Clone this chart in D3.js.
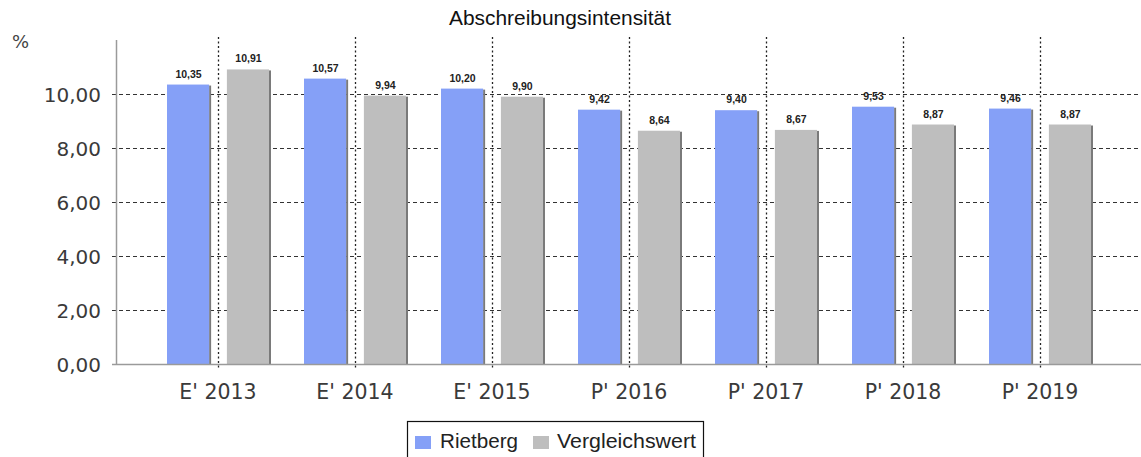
<!DOCTYPE html>
<html>
<head>
<meta charset="utf-8">
<script src="https://cdn.jsdelivr.net/npm/d3@7"></script>
<style>
  html, body { margin: 0; padding: 0; background: #fff; }
  svg { display: block; }
</style>
</head>
<body>
<svg id="chart" width="1141" height="457"></svg>
<script>
// Abschreibungsintensität: Rietberg vs. Vergleichswert, in %
const categories = ["E' 2013", "E' 2014", "E' 2015", "P' 2016", "P' 2017", "P' 2018", "P' 2019"];
const seriesNames = ["Rietberg", "Vergleichswert"];
const rietberg = [10.35, 10.57, 10.20, 9.42, 9.40, 9.53, 9.46];
const vergleichswert = [10.91, 9.94, 9.90, 8.64, 8.67, 8.87, 8.87];
const yTicks = [0, 2, 4, 6, 8, 10];

const colors = ["#85a0f7", "#bebebe"];
const svg = d3.select("#chart");
const plotLeft = 116, plotRight = 1141, plotTop = 40, plotBottom = 364;

const fmt = v => d3.format(".2f")(v).replace(".", ",");

const x = d3.scaleBand().domain(categories).range([149.5, 1108.5]).padding(0);
const inner = d3.scaleBand().domain(seriesNames).range([-51, 52]).paddingInner(0.28);
const y = d3.scaleLinear().domain([0, 12]).range([plotBottom, plotTop]);

// title
svg.append("text")
  .attr("x", 560).attr("y", 25)
  .attr("text-anchor", "middle")
  .attr("font-family", "Arial, 'Liberation Sans', sans-serif")
  .attr("font-size", 20).attr("fill", "#111")
  .attr("textLength", 222).attr("lengthAdjust", "spacingAndGlyphs")
  .text("Abschreibungsintensität");

// unit label
svg.append("text")
  .attr("x", 12).attr("y", 48)
  .attr("font-family", "'DejaVu Sans', sans-serif")
  .attr("font-size", 18).attr("fill", "#444")
  .text("%");

// horizontal gridlines
svg.append("g")
  .selectAll("line").data(yTicks.filter(t => t > 0)).join("line")
  .attr("x1", plotLeft - 4).attr("x2", plotRight)
  .attr("y1", d => Math.round(y(d)) + 0.5).attr("y2", d => Math.round(y(d)) + 0.5)
  .attr("stroke", "#333").attr("stroke-width", 1)
  .attr("stroke-dasharray", "4,3");

// vertical dotted lines at category centers
svg.append("g")
  .selectAll("line").data(categories).join("line")
  .attr("x1", d => Math.round(x(d) + x.bandwidth() / 2) + 0.5)
  .attr("x2", d => Math.round(x(d) + x.bandwidth() / 2) + 0.5)
  .attr("y1", plotTop - 3).attr("y2", plotBottom + 4)
  .attr("stroke", "#222").attr("stroke-width", 1.3)
  .attr("stroke-dasharray", "2,2.5");

// bars
const data = [];
categories.forEach((c, i) => {
  data.push({ cat: c, s: seriesNames[0], v: rietberg[i], col: colors[0] });
  data.push({ cat: c, s: seriesNames[1], v: vergleichswert[i], col: colors[1] });
});
const barX = d => x(d.cat) + x.bandwidth() / 2 + inner(d.s);
const bars = svg.append("g");
// right-hand shadow edge
bars.selectAll("rect.shadow").data(data).join("rect")
  .attr("class", "shadow")
  .attr("x", d => barX(d) + inner.bandwidth() - 1)
  .attr("y", d => y(d.v) + 1)
  .attr("width", 2)
  .attr("height", d => plotBottom - y(d.v) - 1)
  .attr("fill", "#7a7a7a");
bars.selectAll("rect.bar").data(data).join("rect")
  .attr("class", "bar")
  .attr("x", barX)
  .attr("y", d => y(d.v))
  .attr("width", inner.bandwidth() - 1)
  .attr("height", d => plotBottom - y(d.v))
  .attr("fill", d => d.col);

// value labels
svg.append("g")
  .selectAll("text").data(data).join("text")
  .attr("x", d => barX(d) + inner.bandwidth() / 2)
  .attr("y", d => y(d.v) - 7)
  .attr("text-anchor", "middle")
  .attr("font-family", "Arial, 'Liberation Sans', sans-serif")
  .attr("font-size", 10.5).attr("font-weight", "bold").attr("fill", "#222")
  .text(d => fmt(d.v));

// axes lines
svg.append("line")
  .attr("x1", plotLeft + 0.5).attr("x2", plotLeft + 0.5)
  .attr("y1", plotTop).attr("y2", plotBottom)
  .attr("stroke", "#9a9a9a").attr("stroke-width", 1.5);
svg.append("line")
  .attr("x1", plotLeft - 4).attr("x2", plotRight)
  .attr("y1", plotBottom + 0.5).attr("y2", plotBottom + 0.5)
  .attr("stroke", "#9a9a9a").attr("stroke-width", 1.5);

// y tick labels
const yAxis = d3.axisLeft(y).tickValues(yTicks).tickFormat(fmt).tickSize(0).tickPadding(0);
const gy = svg.append("g").attr("transform", `translate(${plotLeft - 15},0)`).call(yAxis);
gy.select(".domain").remove();
gy.selectAll("text")
  .attr("font-family", "'DejaVu Sans', sans-serif")
  .attr("font-size", 20).attr("fill", "#3a3a3a")
  .attr("dy", "0.36em");

// x tick labels
const xAxis = d3.axisBottom(x).tickSize(0).tickPadding(0);
const gx = svg.append("g").attr("transform", `translate(0,${plotBottom + 20})`).call(xAxis);
gx.select(".domain").remove();
gx.selectAll("text")
  .attr("font-family", "'DejaVu Sans', sans-serif")
  .attr("font-size", 20.5).attr("fill", "#3a3a3a")
  .attr("dy", "0.75em");

// legend
const lg = svg.append("g");
lg.append("rect")
  .attr("x", 407.5).attr("y", 421.5).attr("width", 296).attr("height", 40)
  .attr("fill", "#fff").attr("stroke", "#111").attr("stroke-width", 1.2);
const legendItems = [
  { name: seriesNames[0], col: colors[0], sx: 415, tx: 440, len: 78 },
  { name: seriesNames[1], col: colors[1], sx: 533, tx: 557, len: 139 }
];
legendItems.forEach(it => {
  lg.append("rect").attr("x", it.sx).attr("y", 436).attr("width", 16).attr("height", 13).attr("fill", it.col);
  lg.append("text").attr("x", it.tx).attr("y", 448)
    .attr("font-family", "Arial, 'Liberation Sans', sans-serif")
    .attr("font-size", 19.5).attr("fill", "#222")
    .attr("textLength", it.len).attr("lengthAdjust", "spacingAndGlyphs")
    .text(it.name);
});
</script>
</body>
</html>
